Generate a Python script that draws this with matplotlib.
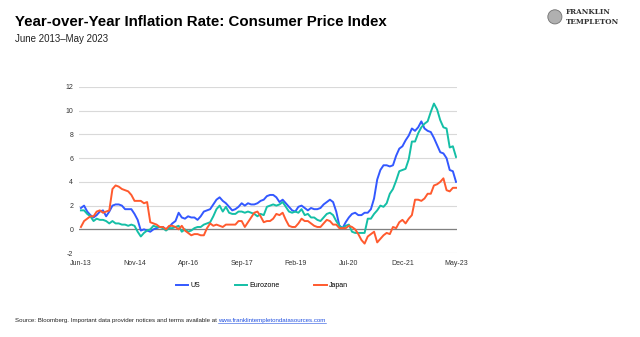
import matplotlib
matplotlib.use("Agg")
import matplotlib.pyplot as plt
from matplotlib.patches import Ellipse
import pandas as pd

plt.rcParams["font.family"] = ["Liberation Sans", "DejaVu Sans"]
plt.rcParams["axes.unicode_minus"] = False

# 月資料 Jun-2013 ~ May-2023 (年增率 %)
months = pd.date_range("2013-06-01", "2023-05-01", freq="MS")

us = [1.8, 2.0, 1.5, 1.2, 1.0, 1.2, 1.5,
      1.6, 1.1, 1.5, 2.0, 2.1, 2.1, 2.0, 1.7, 1.7, 1.7, 1.3, 0.8,
      -0.1, 0.0, -0.1, -0.2, 0.0, 0.1, 0.2, 0.2, 0.0, 0.2, 0.5, 0.7,
      1.4, 1.0, 0.9, 1.1, 1.0, 1.0, 0.8, 1.1, 1.5, 1.6, 1.7, 2.1,
      2.5, 2.7, 2.4, 2.2, 1.9, 1.6, 1.7, 1.9, 2.2, 2.0, 2.2, 2.1,
      2.1, 2.2, 2.4, 2.5, 2.8, 2.9, 2.9, 2.7, 2.3, 2.5, 2.2, 1.9,
      1.6, 1.5, 1.9, 2.0, 1.8, 1.6, 1.8, 1.7, 1.7, 1.8, 2.1, 2.3,
      2.5, 2.3, 1.5, 0.3, 0.1, 0.6, 1.0, 1.3, 1.4, 1.2, 1.2, 1.4,
      1.4, 1.7, 2.6, 4.2, 5.0, 5.4, 5.4, 5.3, 5.4, 6.2, 6.8, 7.0,
      7.5, 7.9, 8.5, 8.3, 8.6, 9.1, 8.5, 8.3, 8.2, 7.7, 7.1, 6.5,
      6.4, 6.0, 5.0, 4.9, 4.0]

eurozone = [1.6, 1.6, 1.3, 1.1, 0.7, 0.9, 0.8,
            0.8, 0.7, 0.5, 0.7, 0.5, 0.5, 0.4, 0.4, 0.3, 0.4, 0.3, -0.2,
            -0.6, -0.3, -0.1, 0.0, 0.3, 0.2, 0.2, 0.1, -0.1, 0.1, 0.1, 0.2,
            0.3, -0.2, 0.0, -0.2, -0.1, 0.1, 0.2, 0.2, 0.4, 0.5, 0.6, 1.1,
            1.7, 2.0, 1.5, 1.9, 1.4, 1.3, 1.3, 1.5, 1.5, 1.4, 1.5, 1.4,
            1.3, 1.1, 1.3, 1.2, 1.9, 2.0, 2.1, 2.0, 2.1, 2.3, 1.9, 1.5,
            1.4, 1.5, 1.4, 1.7, 1.2, 1.3, 1.0, 1.0, 0.8, 0.7, 1.0, 1.3,
            1.4, 1.2, 0.7, 0.3, 0.1, 0.3, 0.4, -0.2, -0.3, -0.3, -0.3, -0.3,
            0.9, 0.9, 1.3, 1.6, 2.0, 1.9, 2.2, 3.0, 3.4, 4.1, 4.9, 5.0,
            5.1, 5.9, 7.4, 7.4, 8.1, 8.6, 8.9, 9.1, 9.9, 10.6, 10.1, 9.2,
            8.6, 8.5, 6.9, 7.0, 6.1]

japan = [0.2, 0.7, 0.9, 1.1, 1.1, 1.5, 1.6,
         1.4, 1.5, 1.6, 3.4, 3.7, 3.6, 3.4, 3.3, 3.2, 2.9, 2.4, 2.4,
         2.4, 2.2, 2.3, 0.6, 0.5, 0.4, 0.2, 0.2, 0.0, 0.3, 0.3, 0.2,
         0.0, 0.3, -0.1, -0.3, -0.5, -0.4, -0.4, -0.5, -0.5, 0.1, 0.5, 0.3,
         0.4, 0.3, 0.2, 0.4, 0.4, 0.4, 0.4, 0.7, 0.7, 0.2, 0.6, 1.0,
         1.4, 1.5, 1.1, 0.6, 0.7, 0.7, 0.9, 1.3, 1.2, 1.4, 0.8, 0.3,
         0.2, 0.2, 0.5, 0.9, 0.7, 0.7, 0.5, 0.3, 0.2, 0.2, 0.5, 0.8,
         0.7, 0.4, 0.4, 0.1, 0.1, 0.1, 0.3, 0.2, 0.0, -0.4, -0.9, -1.2,
         -0.6, -0.4, -0.2, -1.1, -0.8, -0.5, -0.3, -0.4, 0.2, 0.1, 0.6, 0.8,
         0.5, 0.9, 1.2, 2.5, 2.5, 2.4, 2.6, 3.0, 3.0, 3.7, 3.8, 4.0,
         4.3, 3.3, 3.2, 3.5, 3.5]

tick_labels = ["Jun-13", "Nov-14", "Apr-16", "Sep-17", "Feb-19", "Jul-20", "Dec-21", "May-23"]
y_ticks = [-2, 0, 2, 4, 6, 8, 10, 12]

fig = plt.figure(figsize=(6.4, 3.37), dpi=100)
ax = fig.add_axes([0.123, 0.249, 0.591, 0.493])

x = list(range(len(months)))
ax.plot(x, us, color="#3358FF", lw=1.4, label="US")
ax.plot(x, eurozone, color="#14BFA6", lw=1.4, label="Eurozone")
ax.plot(x, japan, color="#FF5A2E", lw=1.4, label="Japan")

ax.axhline(0, color="#808080", lw=0.9, zorder=1)
ax.set_ylim(-2, 12)
ax.set_xlim(-0.7, 119.3)
ax.set_yticks(y_ticks)
ax.set_xticks(range(0, 120, 17))
ax.set_xticklabels(tick_labels)
ax.grid(axis="y", color="#D9D9D9", lw=0.8)
ax.set_axisbelow(True)
for s in ax.spines.values():
    s.set_visible(False)
ax.tick_params(length=0, labelsize=5, colors="#333333", pad=4)
ax.tick_params(axis="x", pad=5)

fig.legend(loc="center", bbox_to_anchor=(0.409, 0.152), ncol=3, frameon=False,
           fontsize=5, handlelength=1.8, handletextpad=0.3, columnspacing=5.0)

# 標題
fig.text(0.023, 0.935, "Year-over-Year Inflation Rate: Consumer Price Index",
         fontsize=10.8, fontweight="bold", va="center")
fig.text(0.023, 0.884, "June 2013\u2013May 2023", fontsize=7, va="center", color="#222222")

# logo
fig.patches.append(Ellipse((0.867, 0.95), 0.022, 0.042, transform=fig.transFigure,
                           facecolor="#B0B0B0", edgecolor="#707070", lw=0.6))
fig.text(0.884, 0.965, "FRANKLIN", family="DejaVu Serif", fontweight="bold",
         fontsize=5.2, va="center", color="#333333")
fig.text(0.884, 0.935, "TEMPLETON", family="DejaVu Serif", fontweight="bold",
         fontsize=5.2, va="center", color="#333333")

# 資料來源
src = fig.text(0.023, 0.05, "Source: Bloomberg. Important data provider notices and terms available at ",
               fontsize=4.4, va="center", color="#222222")
fig.canvas.draw()
bb = src.get_window_extent().transformed(fig.transFigure.inverted())
fig.text(bb.x1, 0.05, "www.franklintempletondatasources.com", fontsize=4.4, va="center",
         color="#1F4FE0", url="https://www.franklintempletondatasources.com")
fig.canvas.draw()
bb2 = fig.texts[-1].get_window_extent().transformed(fig.transFigure.inverted())
fig.add_artist(plt.Line2D([bb.x1, bb2.x1], [0.041, 0.041], transform=fig.transFigure,
                          color="#1F4FE0", lw=0.4))

fig.savefig("out.png", dpi=100)
